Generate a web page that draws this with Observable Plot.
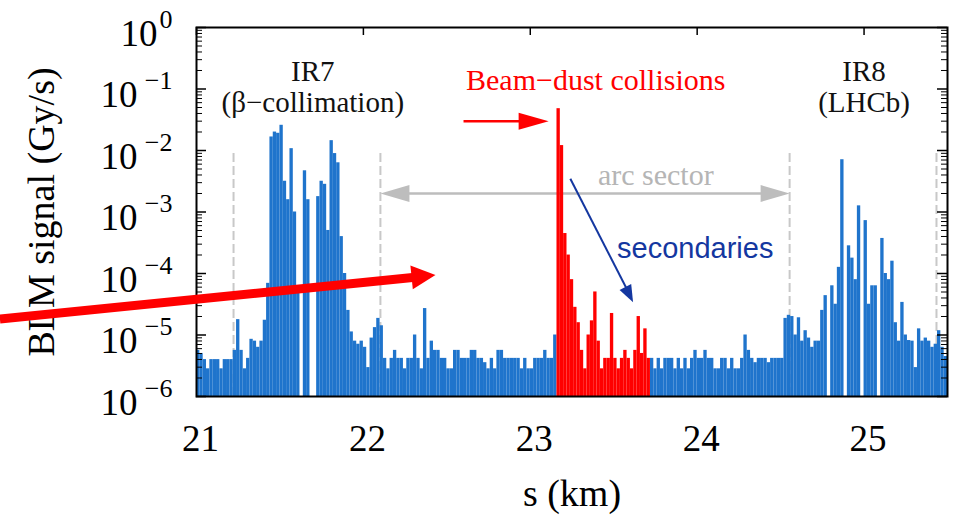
<!DOCTYPE html>
<html>
<head>
<meta charset="utf-8">
<script src="https://cdn.jsdelivr.net/npm/d3@7"></script>
<script src="https://cdn.jsdelivr.net/npm/@observablehq/plot@0.6"></script>
<style>
  html, body { margin: 0; padding: 0; background: #fff; }
  #chart { width: 958px; height: 517px; overflow: hidden; }
</style>
</head>
<body>
<div id="chart"></div>
<script>
// BLM signal along the ring between IR7 and IR8, in 20 m bins.
const binStart = 21.0;   // km
const binWidth = 0.02;   // km

// log10 of the BLM signal (Gy/s) per bin; null = no reading
const logSignal = [
  -5.25, -5.3, -5.4, -5.55, -5.4, -5.4, -5.4, -5.55, -5.4, -5.4,
  -5.4, -5.25, -4.75, -5.25, -5.55, -5.38, -5.07, -5.1, -5.2, -5.1,
  -4.76, -4.16, -1.78, -1.7, -1.72, -1.59, -2.5, -2.8, -1.97, -3.0,
  -4.3, null, -2.33, -2.8, null, null, -2.75, -2.5, -2.55, -3.3,
  -1.84, -2.05, -2.2, -3.4, -4.0, -4.6, -4.95, -5.1, -5.15, -5.1,
  -5.2, -5.53, -5.05, -4.88, -4.73, -4.85, -5.38, -5.55, -5.38, -5.25,
  -5.38, -5.38, -5.55, -5.38, -5.38, -5.0, -5.38, -5.55, -4.57, -5.38,
  -5.1, -5.25, -5.25, -5.38, -5.38, -5.55, -5.55, -5.25, -5.25, -5.38,
  -5.38, -5.38, -5.25, -5.25, -5.38, -5.38, -5.45, -5.55, -5.38, -5.55,
  -5.25, -5.25, -5.38, -5.38, -5.38, -5.38, -5.38, -5.55, -5.38, -5.55,
  -5.55, -5.38, -5.38, -5.38, -5.25, -5.38, -5.38, -5.0, -1.32, -1.92,
  -3.35, -3.7, -4.1, -4.55, -4.8, -5.25, -5.55, -5.0, -4.77, -4.3,
  -5.1, -5.55, -5.38, -5.38, -4.65, -5.38, -5.55, -5.38, -5.25, -5.38,
  -5.55, -5.25, -4.7, -5.3, -4.9, -5.38, -5.38, -5.55, -5.38, -5.55,
  -5.38, -5.38, -5.38, -5.55, -5.38, -5.55, -5.38, -5.55, -5.38, -5.25,
  -5.38, -5.38, -5.25, -5.38, -5.38, -5.55, -5.55, -5.38, -5.38, -5.55,
  -5.38, -5.55, -5.55, -5.38, -5.0, -5.25, -5.38, -5.45, -5.38, -5.38,
  -5.38, -5.45, -5.38, -5.38, -5.38, -5.38, -4.73, -4.68, -4.7, -5.0,
  -4.72, -5.1, -4.93, -5.05, -5.2, -5.1, -5.1, -4.6, -4.36, null,
  -4.2, -4.5, -3.9, -2.15, null, -3.55, -3.75, -4.1, -2.9, null,
  -3.14, -4.5, -4.2, -4.2, null, -3.43, -4.0, -4.1, -3.8, -4.8,
  -5.1, -4.47, -5.0, -5.09, -5.1, -5.53, -4.9, -5.1, -5.05, -5.1,
  -5.2, -5.15, -4.93, -5.2, -5.35
];

// bins attributed to the beam–dust event (km)
const dustRange = [23.16, 23.72];

const decades = [1e-6, 1e-5, 1e-4, 1e-3, 1e-2, 1e-1, 1];
const decadeExponents = ["\u22126", "\u22125", "\u22124", "\u22123", "\u22122", "\u22121", "0"];
const minorMultipliers = [2, 3, 4, 5, 6, 7, 8, 9];
const kmTicks = [21, 22, 23, 24, 25];

// dashed boundaries of IR7 and IR8 / the arc sector (km)
const sectorBounds = [21.222, 22.102, 24.554, 25.434];

const blue = "#1f74cc";
const red = "#ff0000";
const navy = "#1437a0";
const gray = "#bdbdbd";
const serif = "'Liberation Serif', 'Times New Roman', serif";
const sans = "'Liberation Sans', Arial, sans-serif";

const bins = logSignal
  .map((v, i) => {
    const s0 = +(binStart + i * binWidth).toFixed(3);
    return {s0, s1: +(s0 + binWidth).toFixed(3), signal: v == null ? null : 10 ** v,
            dust: s0 >= dustRange[0] - 1e-9 && s0 < dustRange[1] - 1e-9};
  })
  .filter(d => d.signal != null);

const minorTicks = decades.slice(0, -1).flatMap(d => minorMultipliers.map(k => d * k));

// filled arrowhead pointing along `deg` (clockwise from +x), tip at the origin
function head(len, wid, deg) {
  const a = deg * Math.PI / 180, c = Math.cos(a), s = Math.sin(a);
  const pts = [[0, 0], [-len, -wid / 2], [-len, wid / 2]]
    .map(([x, y]) => [x * c - y * s, x * s + y * c]);
  return {
    draw(ctx) {
      ctx.moveTo(pts[0][0], pts[0][1]);
      ctx.lineTo(pts[1][0], pts[1][1]);
      ctx.lineTo(pts[2][0], pts[2][1]);
      ctx.closePath();
    }
  };
}

const W = 958, H = 517, ML = 196, MR = 11, MT = 27, MB = 121;
const plotW = W - ML - MR, plotH = H - MT - MB;

const chart = Plot.plot({
  width: W, height: H,
  marginLeft: ML, marginRight: MR, marginTop: MT, marginBottom: MB,
  x: {domain: [21, 25.5], axis: null},
  y: {type: "log", domain: [1e-6, 1], axis: null},
  style: {fontFamily: serif, background: "white", overflow: "visible"},
  marks: [
    // sector boundaries
    Plot.ruleX(sectorBounds, {x: d => d, y1: 1e-6, y2: 1e-2, stroke: "#c8c8c8",
      strokeWidth: 2, strokeDasharray: "9,4"}),

    // arc sector span
    Plot.link([0], {x1: () => 22.25, x2: () => 24.40, y1: () => 10 ** -2.699, y2: () => 10 ** -2.699,
      stroke: gray, strokeWidth: 2.5}),
    Plot.dot([0], {x: () => 22.102, y: () => 10 ** -2.699, symbol: head(29, 17, 180), fill: gray, stroke: "none"}),
    Plot.dot([0], {x: () => 24.554, y: () => 10 ** -2.699, symbol: head(29, 17, 0), fill: gray, stroke: "none"}),
    Plot.text(["arc sector"], {x: () => 23.752, y: () => 10 ** -2.569, lineAnchor: "bottom",
      fontSize: 30, fill: "#b5b5b5", fontFamily: serif}),

    // BLM signal bars
    Plot.rect(bins.filter(d => !d.dust), {x1: "s0", x2: "s1", y1: () => 1e-6, y2: "signal", fill: blue}),
    Plot.rect(bins.filter(d => d.dust), {x1: "s0", x2: "s1", y1: () => 1e-6, y2: "signal", fill: red}),

    Plot.frame({stroke: "black", strokeWidth: 2}),

    // inward ticks
    Plot.tickY(decades, {y: d => d, insetRight: plotW - 10, stroke: "black", strokeWidth: 1.5}),
    Plot.tickY(decades, {y: d => d, insetLeft: plotW - 10, stroke: "black", strokeWidth: 1.5}),
    Plot.tickY(minorTicks, {y: d => d, insetRight: plotW - 6, stroke: "black", strokeWidth: 1}),
    Plot.tickY(minorTicks, {y: d => d, insetLeft: plotW - 6, stroke: "black", strokeWidth: 1}),
    Plot.tickX(kmTicks, {x: d => d, insetBottom: plotH - 8, stroke: "black", strokeWidth: 1.5}),

    // y tick labels: 10 with a raised exponent
    Plot.text(decades.filter(d => d < 1), {y: d => d, frameAnchor: "left", text: () => "10",
      textAnchor: "end", lineAnchor: "bottom", dx: -59, dy: 18, fontSize: 37, fill: "black"}),
    Plot.text(decades.filter(d => d === 1), {y: d => d, frameAnchor: "left", text: () => "10",
      textAnchor: "end", lineAnchor: "bottom", dx: -39, dy: 18, fontSize: 37, fill: "black"}),
    Plot.text(decades, {y: d => d, frameAnchor: "left", text: (d, i) => decadeExponents[i],
      textAnchor: "end", lineAnchor: "bottom", dx: -24, dy: 0, fontSize: 26, fill: "black"}),

    // x tick labels
    Plot.text(kmTicks, {x: d => d, frameAnchor: "bottom", text: d => String(d),
      lineAnchor: "bottom", dx: 4, dy: 54, fontSize: 37, fill: "black"}),

    // axis titles
    Plot.text(["s (km)"], {frameAnchor: "bottom", textAnchor: "middle", lineAnchor: "bottom",
      dy: 109, fontSize: 38, fill: "black"}),
    Plot.text(["BLM signal (Gy/s)"], {frameAnchor: "left", textAnchor: "middle", rotate: -90,
      lineAnchor: "bottom", dx: -143, fontSize: 38, fill: "black"}),

    // region labels
    Plot.text(["IR7\n(\u03b2\u2212collimation)"], {x: () => 21.697, y: () => 10 ** -1.382,
      lineAnchor: "bottom", lineHeight: 1.1, fontSize: 29, fill: "#111"}),
    Plot.text(["IR8\n(LHCb)"], {x: () => 25.0, y: () => 10 ** -1.382,
      lineAnchor: "bottom", lineHeight: 1.1, fontSize: 29, fill: "#111"}),

    // beam–dust event
    Plot.text(["Beam\u2212dust collisions"], {x: () => 23.392, y: () => 10 ** -1.024, lineAnchor: "bottom",
      fontSize: 30, fill: red}),
    Plot.link([0], {x1: () => 22.60, x2: () => 22.94, y1: () => 10 ** -1.524, y2: () => 10 ** -1.524,
      stroke: red, strokeWidth: 2.5}),
    Plot.dot([0], {x: () => 23.11, y: () => 10 ** -1.524, symbol: head(30, 17, 0), fill: red, stroke: "none"}),

    // secondaries
    Plot.text(["secondaries"], {x: () => 23.52, y: () => 10 ** -3.756, textAnchor: "start", lineAnchor: "bottom",
      fontSize: 29, fill: navy, fontFamily: sans}),
    Plot.link([0], {x1: () => 23.24, x2: () => 23.58, y1: () => 10 ** -2.46, y2: () => 10 ** -4.26,
      stroke: navy, strokeWidth: 2}),
    Plot.dot([0], {x: () => 23.616, y: () => 10 ** -4.467, symbol: head(17, 13, 63.1), fill: navy, stroke: "none"}),

    // pointer into the arc
    Plot.link([0], {x1: () => 19.822, x2: () => 22.31, y1: () => 10 ** -4.74, y2: () => 10 ** -4.06,
      stroke: red, strokeWidth: 9}),
    Plot.dot([0], {x: () => 22.432, y: () => 10 ** -4.024, symbol: head(24, 24, -5.78), fill: red, stroke: "none"})
  ]
});

document.getElementById("chart").appendChild(chart);
</script>
</body>
</html>
